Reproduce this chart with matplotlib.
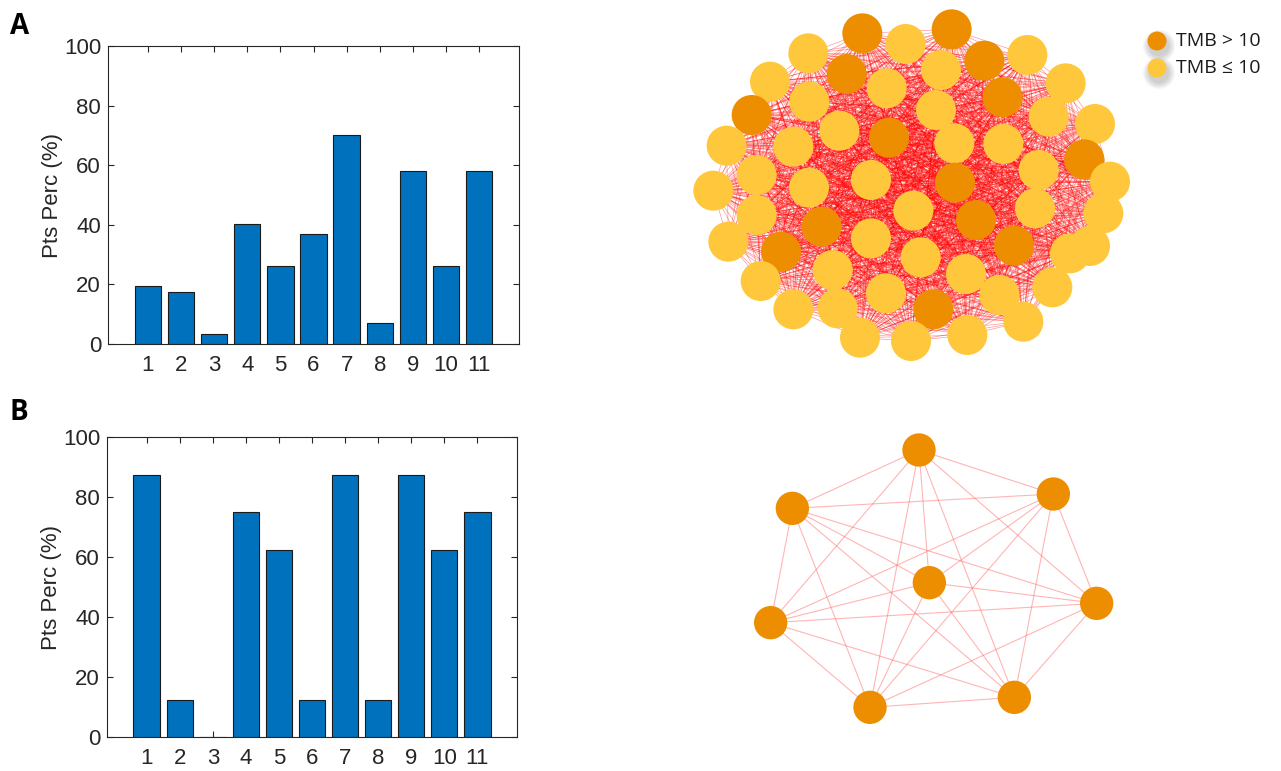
import itertools

import numpy as np
import matplotlib

matplotlib.use("Agg")
import matplotlib.pyplot as plt
from matplotlib.patches import Circle
from matplotlib.collections import LineCollection


# percentage of patients per group, cohort A (n=57) and cohort B (n=8)
groups = [str(i) for i in range(1, 12)]
pct_a = [19.3, 17.5, 3.5, 40.4, 26.3, 36.8, 70.2, 7.0, 57.9, 26.3, 57.9]
pct_b = [87.5, 12.5, 0.0, 75.0, 62.5, 12.5, 87.5, 12.5, 87.5, 62.5, 75.0]

# network layout of cohort A; high = 1 marks TMB > 10
net_a_x = [547, 815, 677, 385, 1042, 913, 500, 783, 270, 620, 1157, 968, 388, 215, 768,
           1106, 1245, 478, 627, 140, 340, 823, 970, 1213, 230, 573, 825, 1076, 1290, 100,
           387, 700, 888, 1065, 1270, 230, 425, 573, 145, 303, 1002, 1230, 1170, 722, 458,
           858, 242, 1117, 618, 958, 340, 473, 760, 1030, 540, 693, 862]
net_a_y = [100, 88, 132, 160, 165, 182, 222, 210, 245, 265, 250, 292, 305, 345, 330,
           350, 372, 392, 413, 437, 440, 430, 432, 478, 525, 540, 548, 510, 545, 572,
           563, 632, 660, 625, 640, 645, 680, 715, 725, 755, 737, 738, 760, 772, 810,
           822, 843, 862, 880, 885, 928, 925, 928, 965, 1013, 1023, 1005]
net_a_high = [1, 1, 0, 0, 0, 1, 1, 0, 0, 0, 0, 1, 0, 1, 0,
              0, 0, 0, 1, 0, 0, 0, 0, 1, 0, 0, 1, 0, 0, 0,
              0, 0, 1, 0, 0, 0, 1, 0, 0, 1, 1, 0, 0, 0, 0,
              0, 0, 0, 0, 0, 0, 0, 1, 0, 0, 0, 0]

# network layout of cohort B (all TMB > 10)
net_b_x = [537, 940, 157, 568, 1070, 92, 823, 390]
net_b_y = [90, 222, 265, 488, 550, 608, 832, 862]

BAR_BLUE = "#0072BD"
AXIS_GREY = "#262626"
TMB_HIGH = "#EC8E00"
TMB_LOW = "#FFC83C"

W, H = 1281, 771

plt.rcParams["font.family"] = ["Liberation Sans", "DejaVu Sans"]


def draw_bars(ax, values):
    x = np.arange(1, len(values) + 1)
    ax.bar(x, values, width=0.8, color=BAR_BLUE, edgecolor="#1a1a1a", linewidth=0.8)
    ax.set_axisbelow(True)
    ax.set_xlim(-0.2, 12.2)
    ax.set_ylim(0, 100)
    ax.set_xticks(x, groups)
    ax.set_yticks(range(0, 101, 20))
    ax.tick_params(direction="in", top=True, right=True, length=4, width=0.8,
                   labelsize=16, colors=AXIS_GREY)
    ax.tick_params(axis="x", pad=8)
    ax.tick_params(axis="y", pad=5)
    ax.set_ylabel("Pts Perc (%)", fontsize=16, color=AXIS_GREY)
    ax.yaxis.set_label_coords(-0.11, 0.5)
    for sp in ax.spines.values():
        sp.set_color(AXIS_GREY)
        sp.set_linewidth(0.8)


def draw_network(ax, xs, ys, colors, radius, edge_color, edge_lw, edge_alpha):
    pts = list(zip(xs, ys))
    segs = [(pts[i], pts[j]) for i, j in itertools.combinations(range(len(pts)), 2)]
    ax.add_collection(LineCollection(segs, colors=edge_color, linewidths=edge_lw,
                                     alpha=edge_alpha, zorder=1))
    for (x, y), c in zip(pts, colors):
        ax.add_patch(Circle((x, y), radius, facecolor=c, edgecolor="none", zorder=2))
    ax.set_axis_off()


fig = plt.figure(figsize=(W / 100, H / 100), dpi=100)

ax_a = fig.add_axes([108 / W, 1 - 344 / H, 411 / W, 298 / H])
draw_bars(ax_a, pct_a)
ax_b = fig.add_axes([107 / W, 1 - 737 / H, 410 / W, 300 / H])
draw_bars(ax_b, pct_b)

fig.text(10 / W, 1 - 27 / H, "A", fontsize=20, fontweight="bold", va="center",
         family=["Open Sans", "DejaVu Sans"])
fig.text(10 / W, 1 - 412 / H, "B", fontsize=20, fontweight="bold", va="center",
         family=["Open Sans", "DejaVu Sans"])

net_a = fig.add_axes([680 / W, 1 - 370 / H, 460 / W, 370 / H])
net_a.set_xlim(0, 1380)
net_a.set_ylim(1110, 0)
colors_a = [TMB_HIGH if h else TMB_LOW for h in net_a_high]
draw_network(net_a, net_a_x, net_a_y, colors_a, 60, "#ff0000", 0.5, 0.4)

net_b = fig.add_axes([740 / W, 1 - 740 / H, 400 / W, 320 / H])
net_b.set_xlim(0, 1200)
net_b.set_ylim(960, 0)
draw_network(net_b, net_b_x, net_b_y, [TMB_HIGH] * len(net_b_x), 50, "#ff6b6b", 0.8, 0.5)

# legend with soft drop shadow under the markers
leg = fig.add_axes([0, 0, 1, 1], facecolor="none")
leg.set_xlim(0, W)
leg.set_ylim(H, 0)
leg.set_axis_off()
for y, c, label in [(41, TMB_HIGH, "TMB > 10"), (68, TMB_LOW, "TMB \u2264 10")]:
    for k in range(6):
        leg.add_patch(Circle((1159, y + 5), 10 + k * 1.2, facecolor="#555555",
                             edgecolor="none", alpha=0.05))
    leg.add_patch(Circle((1157, y), 9.5, facecolor=c, edgecolor="none"))
    leg.text(1176, y, label, fontsize=14, va="center", color="#1a1a1a",
             family=["Open Sans", "DejaVu Sans"])

fig.savefig("out.png", dpi=100)
